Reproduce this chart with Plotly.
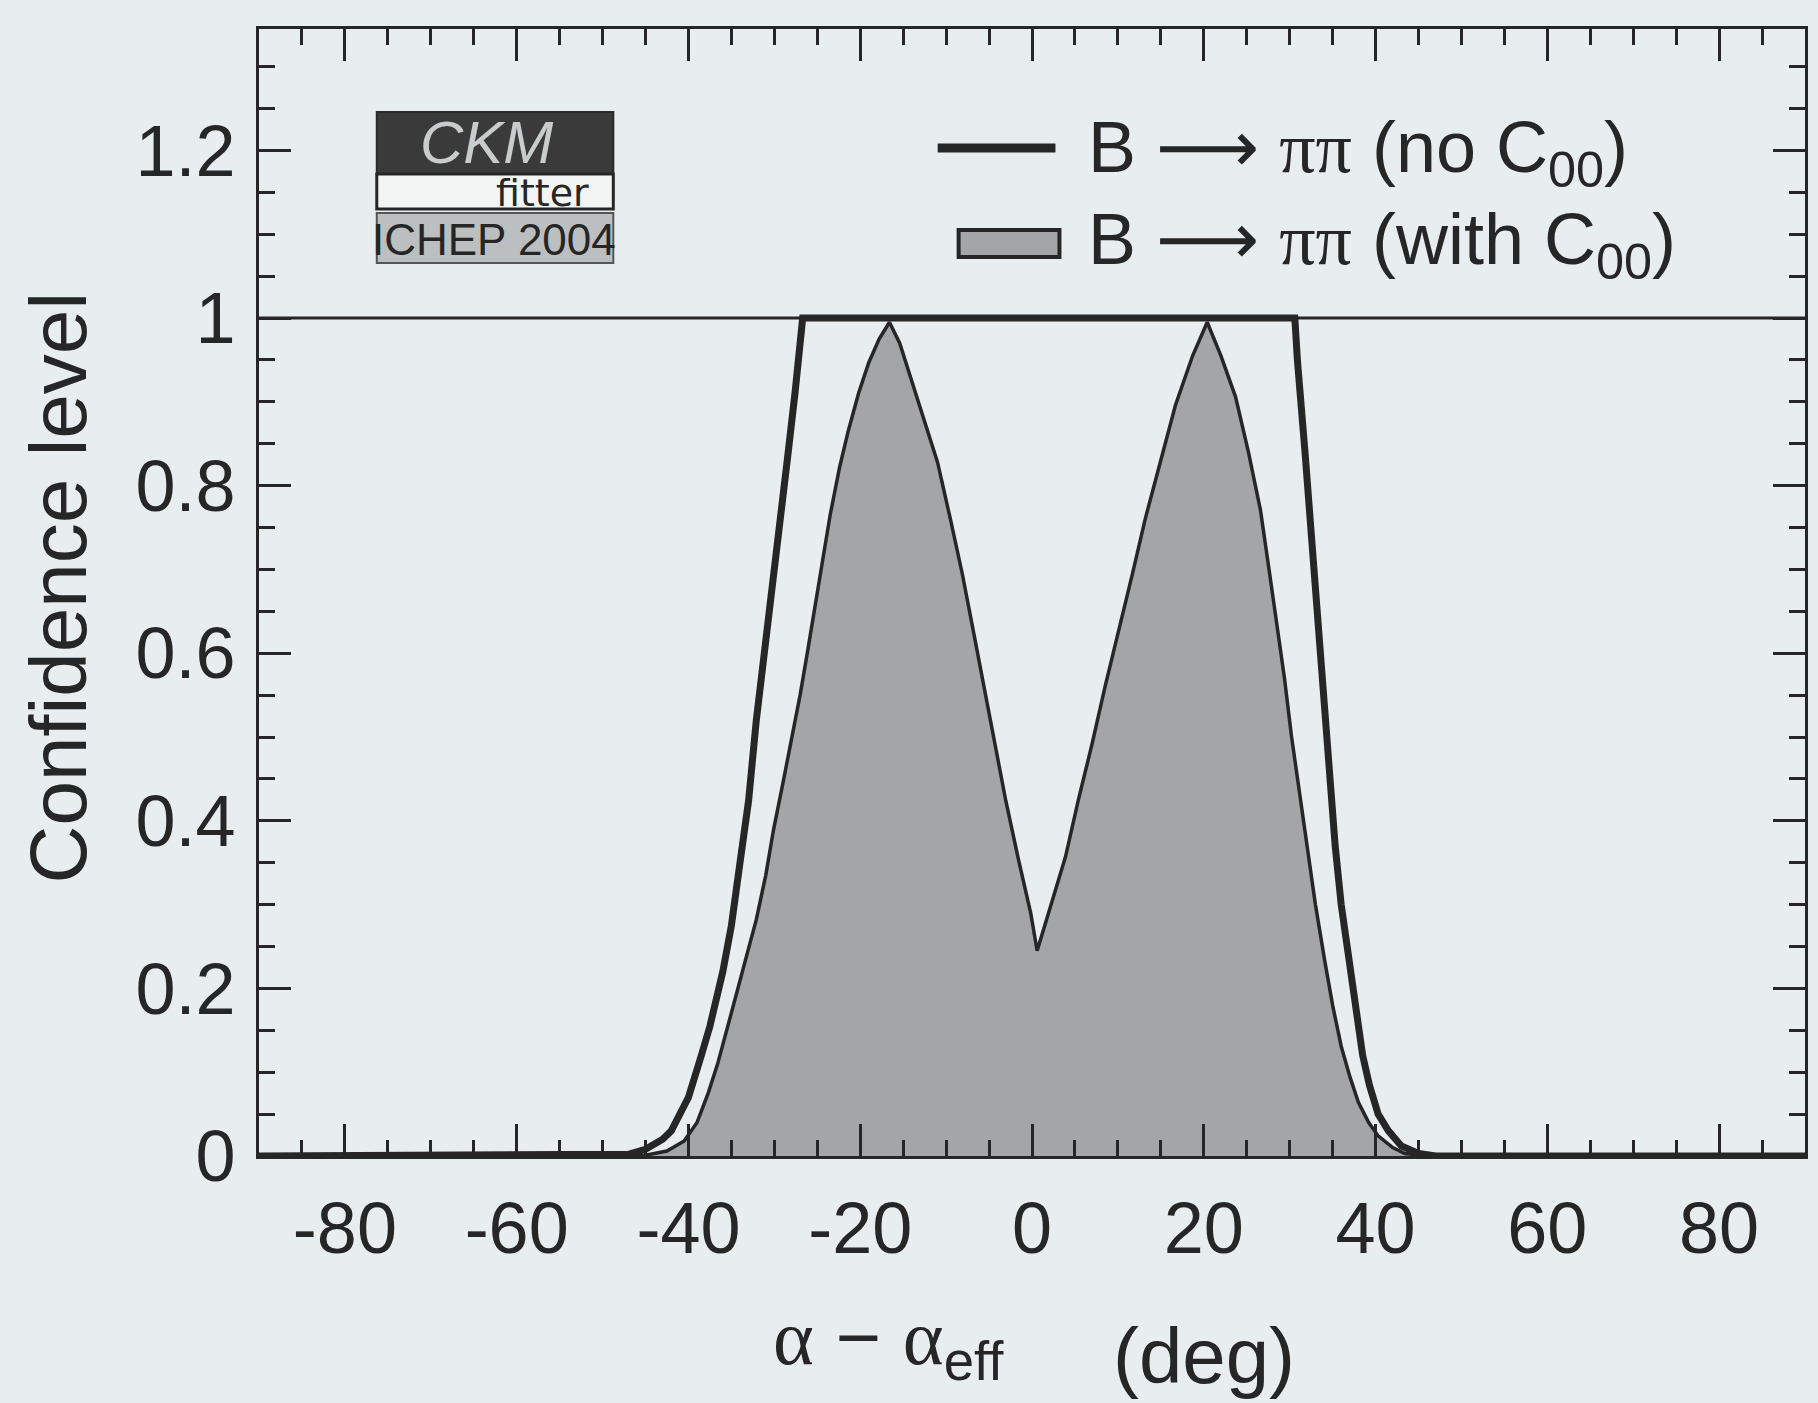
import plotly.graph_objects as go

# ---------------- data ----------------
x_noc00 = [-90, -60, -50, -47, -45, -43, -42, -40, -38.5, -37.5, -36, -35.0, -34.0, -33.0,
           -32.1, -30.8, -29.8, -28.5, -27.6, -26.9, -26.7, 30.6, 30.9, 31.8, 32.8, 33.7,
           34.7, 35.3, 36.0, 36.9, 37.8, 38.5, 39.3, 40.3, 41.5, 43, 45, 47, 60, 90]
y_noc00 = [0, 0, 0, 0.002, 0.008, 0.02, 0.03, 0.07, 0.12, 0.155, 0.22, 0.275, 0.35, 0.424,
           0.52, 0.626, 0.711, 0.83, 0.91, 0.99, 1.0, 1.0, 0.95, 0.838, 0.704, 0.569,
           0.434, 0.37, 0.30, 0.23, 0.165, 0.12, 0.084, 0.05, 0.03, 0.012, 0.003, 0, 0, 0]

x_withc00 = [-90, -50, -45, -42.5, -40.5, -39.0, -37.7, -36.6, -35.5, -34.5, -33.2, -32.1,
             -31.0, -30.1, -29.0, -28.0, -27.0, -26.1, -25.2, -24.4, -23.5, -22.4, -21.4,
             -20.2, -19.0, -17.8, -16.6, -15.4, -13.2, -11.0, -9.5, -8.1, -6.8, -5.6, -4.3, -3.05,
             -1.6, -0.15, 0.6, 2.2, 3.9, 5.4, 7.0, 8.5, 10.1, 11.7, 13.2, 15.0, 16.7, 18.7,
             20.4, 22.0, 23.7, 25.2, 26.6, 27.6, 28.5, 29.4, 30.2, 31.1, 32.0, 33.0, 34.1,
             35.0, 36.0, 37.0, 38.0, 39.2, 40.3, 42, 43.4, 46, 90]
y_withc00 = [0, 0, 0.001, 0.006, 0.018, 0.04, 0.075, 0.11, 0.15, 0.19, 0.24, 0.282,
             0.335, 0.389, 0.445, 0.496, 0.55, 0.604, 0.66, 0.711, 0.765, 0.822, 0.865,
             0.91, 0.947, 0.975, 0.995, 0.97, 0.9, 0.828, 0.76, 0.694, 0.625, 0.559, 0.49, 0.424,
             0.355, 0.29, 0.245, 0.30, 0.357, 0.425, 0.492, 0.56, 0.626, 0.695, 0.761, 0.83, 0.896, 0.955,
             0.995, 0.955, 0.906, 0.84, 0.771, 0.70, 0.636, 0.57, 0.502, 0.435, 0.367, 0.30, 0.232,
             0.18, 0.131, 0.095, 0.064, 0.04, 0.024, 0.01, 0.003, 0.0, 0]

x_tickvals = [-80, -60, -40, -20, 0, 20, 40, 60, 80]
x_ticktext = ["-80", "-60", "-40", "-20", "0", "20", "40", "60", "80"]
y_tickvals = [0, 0.2, 0.4, 0.6, 0.8, 1.0, 1.2]
y_ticktext = ["0", "0.2", "0.4", "0.6", "0.8", "1", "1.2"]

ARROW = "<span style='font-family:DejaVu Sans'>\u27f6</span>"
PIPI = "<span style='font-family:Liberation Serif'>\u03c0\u03c0</span>"
legend_labels = ["B " + ARROW + " " + PIPI + " (no C<sub>00</sub>)",
                 "B " + ARROW + " " + PIPI + " (with C<sub>00</sub>)"]

# ---------------- layout geometry ----------------
W, H = 1818, 1403
L, R, T, B = 259, 10, 29, 247
PW, PH = W - L - R, H - T - B


def px(x):
    return (x - L) / PW


def py(y):
    return (H - B - y) / PH


BG = "#e8edef"
INK = "#262626"
FILL = "#a3a5a6"
FONT = "Liberation Sans, Arial, sans-serif"

fig = go.Figure()
fig.add_trace(go.Scatter(x=x_withc00, y=y_withc00, mode="lines", fill="tozeroy",
                         fillcolor=FILL, line=dict(color=INK, width=3.5),
                         name="with C00", showlegend=False))
fig.add_trace(go.Scatter(x=x_noc00, y=y_noc00, mode="lines",
                         line=dict(color=INK, width=7),
                         name="no C00", showlegend=False))

axis_common = dict(showline=True, linecolor=INK, linewidth=3, mirror="ticks",
                   ticks="inside", tickcolor=INK, tickwidth=2.5, ticklen=32,
                   showgrid=False, zeroline=False,
                   tickfont=dict(family=FONT, size=72, color=INK))

fig.update_xaxes(range=[-90, 90], tickmode="array", tickvals=x_tickvals, ticktext=x_ticktext,
                 minor=dict(dtick=5, tick0=0, ticks="inside", ticklen=16, tickwidth=2.5,
                            tickcolor=INK, showgrid=False),
                 ticklabelstandoff=8, **axis_common)
fig.update_yaxes(range=[0, 1.345], tickmode="array", tickvals=y_tickvals, ticktext=y_ticktext,
                 minor=dict(dtick=0.05, tick0=0, ticks="inside", ticklen=16, tickwidth=2.5,
                            tickcolor=INK, showgrid=False),
                 ticklabelstandoff=6, **axis_common)

shapes = [
    # reference line at CL = 1
    dict(type="line", xref="paper", yref="y", x0=0, x1=1, y0=1, y1=1,
         line=dict(color=INK, width=3), layer="below"),
    # legend samples
    dict(type="line", xref="paper", yref="paper", x0=px(939), x1=px(1057), y0=py(148), y1=py(148),
         line=dict(color=INK, width=9)),
    dict(type="rect", xref="paper", yref="paper", x0=px(960), x1=px(1061), y0=py(230), y1=py(257),
         fillcolor=FILL, line=dict(color=INK, width=4)),
    # CKMfitter logo
    dict(type="rect", xref="paper", yref="paper", x0=px(377), x1=px(614), y0=py(112), y1=py(174),
         fillcolor="#3a3a3a", line=dict(color="#2a2a2a", width=2)),
    dict(type="rect", xref="paper", yref="paper", x0=px(377), x1=px(614), y0=py(174), y1=py(209),
         fillcolor="#f3f5f5", line=dict(color=INK, width=3)),
    dict(type="rect", xref="paper", yref="paper", x0=px(377), x1=px(614), y0=py(213), y1=py(263),
         fillcolor="#bcbfbf", line=dict(color="#555", width=2)),
]

annotations = [
    dict(text=legend_labels[0], xref="paper", yref="paper", x=px(1088), y=py(151),
         xanchor="left", yanchor="middle", showarrow=False,
         font=dict(family=FONT, size=72, color=INK)),
    dict(text=legend_labels[1], xref="paper", yref="paper", x=px(1088), y=py(243),
         xanchor="left", yanchor="middle", showarrow=False,
         font=dict(family=FONT, size=72, color=INK)),
    dict(text="<i>CKM</i>", xref="paper", yref="paper", x=px(487), y=py(142),
         xanchor="center", yanchor="middle", showarrow=False,
         font=dict(family=FONT, size=60, color="#c9cccd")),
    dict(text="fitter", xref="paper", yref="paper", x=px(592), y=py(193),
         xanchor="right", yanchor="middle", showarrow=False,
         font=dict(family="DejaVu Sans", size=38, color=INK)),
    dict(text="ICHEP 2004", xref="paper", yref="paper", x=px(494), y=py(239),
         xanchor="center", yanchor="middle", showarrow=False,
         font=dict(family=FONT, size=44, color=INK)),
    # axis titles
    dict(text="Confidence level", xref="paper", yref="paper", x=px(58), y=py(588),
         xanchor="center", yanchor="middle", textangle=-90, showarrow=False,
         font=dict(family=FONT, size=80, color=INK)),
    dict(text="<span style='font-family:Liberation Serif'>\u03b1</span> \u2212 "
              "<span style='font-family:Liberation Serif'>\u03b1</span><sub>eff</sub>",
         xref="paper", yref="paper", x=px(890), y=py(1343),
         xanchor="center", yanchor="middle", showarrow=False,
         font=dict(family=FONT, size=78, color=INK)),
    dict(text="(deg)", xref="paper", yref="paper", x=px(1206), y=py(1356),
         xanchor="center", yanchor="middle", showarrow=False,
         font=dict(family=FONT, size=78, color=INK)),
]

fig.update_layout(width=W, height=H, autosize=False,
                  margin=dict(l=L, r=R, t=T, b=B, pad=0),
                  paper_bgcolor=BG, plot_bgcolor=BG,
                  showlegend=False, shapes=shapes, annotations=annotations,
                  font=dict(family=FONT, color=INK))

fig.write_html("out.html")
